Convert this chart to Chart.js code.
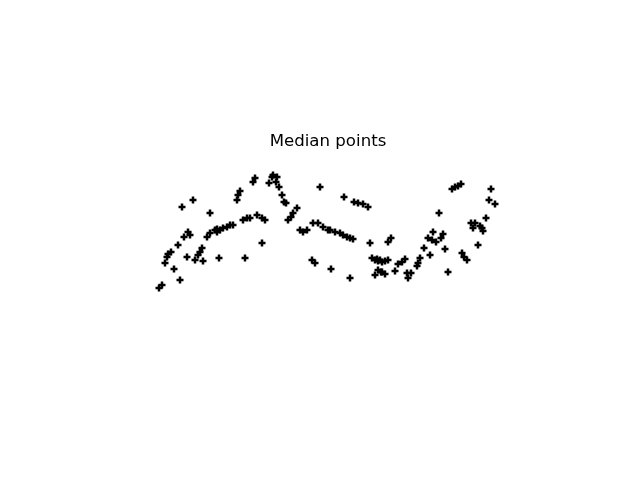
<!DOCTYPE html>
<html>
<head>
<meta charset="utf-8">
<script src="https://cdn.jsdelivr.net/npm/chart.js@4/dist/chart.umd.min.js"></script>
<style>
  html, body { margin: 0; padding: 0; background: #fff; }
  #wrap { width: 640px; height: 480px; }
</style>
</head>
<body>
<div id="wrap"><canvas id="thisChart" width="640" height="480"></canvas></div>
<script>
// median points (x to the right, y downward)
const xVals = [159,162,180,174,165,167,168,171,178,187,184,188,190,182,193,210,195,203,198,200,202,219,207,210,215,217,
  217,220,223,227,230,233,243,247,250,257,262,265,262,245,237,238,240,253,255,269,272,
  273,277,276,279,282,284,286,297,293,291,288,300,303,307,320,313,318,323,328,312,315,
  344,354,358,363,368,330,335,340,343,347,350,353,370,372,375,378,382,331,350,378,375,382,
  391,388,377,380,385,388,405,402,398,420,418,417,381,385,395,407,411,408,
  452,455,458,461,491,489,495,439,486,471,475,473,480,482,483,433,428,432,436,441,443,478,424,430,445,462,464,467,448]
const yVals = [288,285,280,269,263,257,254,252,245,257,237,232,235,207,200,213,260,261,255,252,248,258,237,233,230,229,
  232,230,228,227,225,225,220,218,218,215,218,220,243,258,200,195,191,182,178,183,177,
  175,177,182,187,195,202,203,208,213,217,220,230,232,230,187,223,223,227,230,260,263,
  197,202,203,204,207,230,232,233,235,237,238,239,243,258,260,261,262,269,278,270,275,272,
  238,242,259,260,261,260,259,262,264,258,263,266,272,274,271,273,273,278,
  189,187,186,184,189,200,204,213,218,223,223,228,226,228,231,232,238,240,242,238,234,245,248,255,249,253,257,260,272]

let points = []
for (let i = 0; i < xVals.length; i++) {
  points.push({x: xVals[i], y: yVals[i]})
}

const data = {
  datasets: [{
    label: "Median points",
    data: points,
    pointStyle: "cross",
    pointRadius: 3.5,
    pointBorderWidth: 2.5,
    borderColor: "#000",
    backgroundColor: "#000",
    showLine: false,
  }],
}

const config = {
  type: "scatter",
  data,
  options: {
    responsive: false,
    animation: false,
    layout: { padding: { top: 121, bottom: 180, left: 80, right: 64 } },
    plugins: {
      legend: { display: false },
      tooltip: { enabled: false },
      title: {
        display: true,
        text: "Median points",
        color: "#000",
        font: { family: "DejaVu Sans", size: 16.6, weight: "normal" },
        padding: { top: 11, bottom: 8.08 },
      },
    },
    scales: {
      x: { type: "linear", display: false, min: 80, max: 576 },
      y: { type: "linear", display: false, min: 160, max: 300, reverse: true },
    },
  },
}

const chart = new Chart(document.getElementById("thisChart").getContext("2d"), config)
</script>
</body>
</html>
